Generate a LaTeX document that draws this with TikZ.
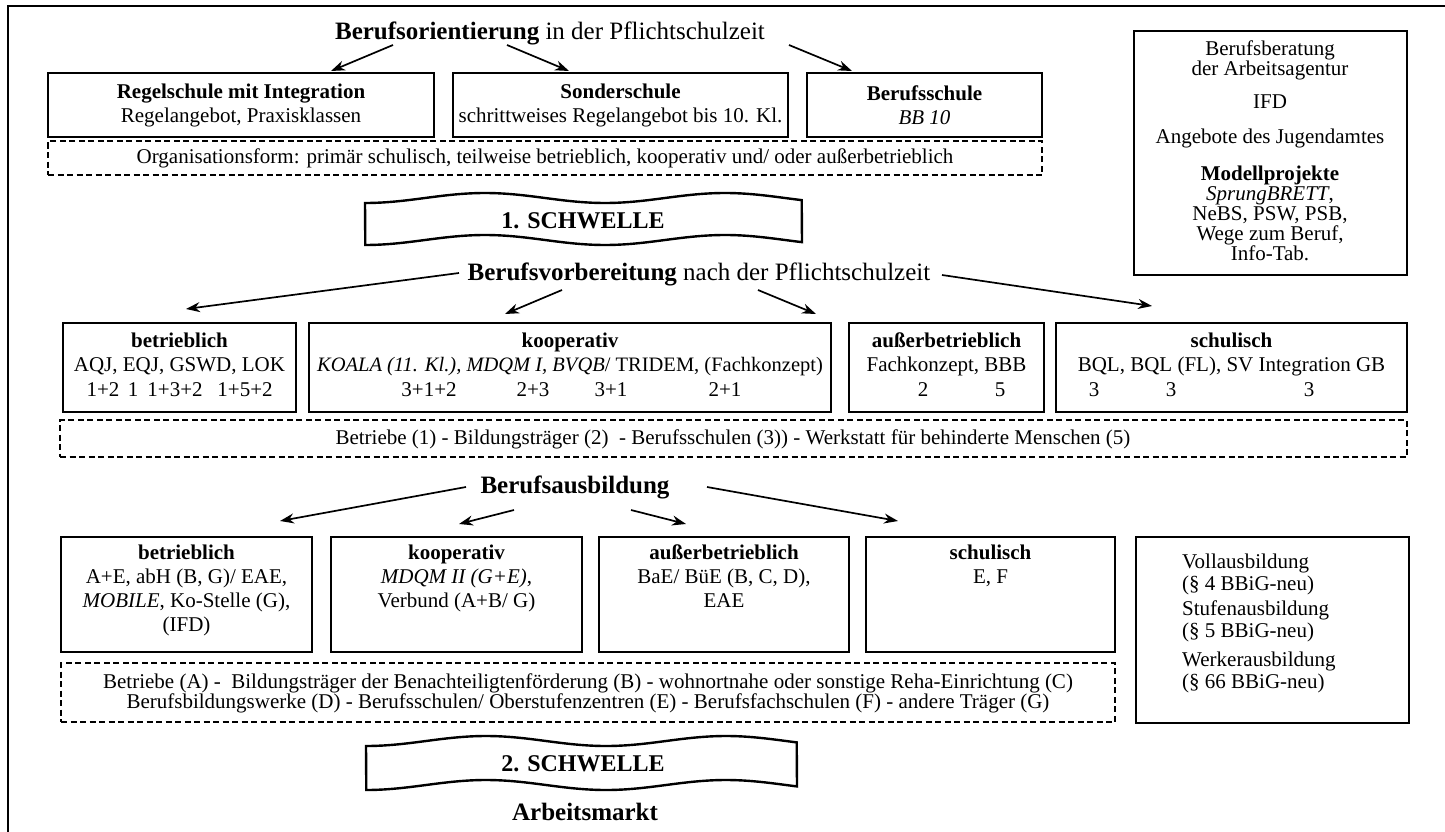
\documentclass[tikz,border=0pt]{standalone}
\usepackage{fontspec}
\setmainfont{Liberation Serif}
\usetikzlibrary{arrows.meta,fit}
\begin{document}
\begin{tikzpicture}[x=1pt,y=-1pt,
  box/.style={draw, line width=1.4pt, inner sep=0pt},
  thickbox/.style={draw, line width=2.4pt, inner sep=0pt},
  dbox/.style={draw, dash pattern=on 6pt off 3.5pt, line width=1.3pt, inner sep=0pt},
  txt/.style={font=\fontsize{21}{24}\selectfont, inner sep=0pt, align=center},
  hd/.style={font=\fontsize{25}{28}\selectfont, inner sep=0pt},
  arr/.style={-{Stealth[length=14pt,width=10pt]}, line width=1.7pt},
  ban/.style={line width=2.4pt}]
\useasboundingbox (0,0) rectangle (1445,832);
% outer frame
\draw[line width=1.9pt] (1445,6) -- (8,6) -- (8,832);

% ---------- Berufsorientierung ----------
\node[hd, anchor=base] (t1) at (550,40) {\textbf{Berufsorientierung} in der Pflichtschulzeit};
\coordinate (a1s) at (393,45); \coordinate (a1e) at (331,71);
\coordinate (a2s) at (507,45); \coordinate (a2e) at (569,71);
\coordinate (a3s) at (789,45); \coordinate (a3e) at (852,71);
\draw[arr] (a1s) -- (a1e);
\draw[arr] (a2s) -- (a2e);
\draw[arr] (a3s) -- (a3e);

\node[box, fit={(48,73) (434,137)}] (b11) {};
\node[box, fit={(453,73) (788,137)}] (b12) {};
\node[box, fit={(807,73) (1042,137)}] (b13) {};
\node[txt] (b11t) at (b11.center) {\textbf{Regelschule mit Integration}\\Regelangebot, Praxisklassen};
\node[txt] (b12t) at (b12.center) {\textbf{Sonderschule}\\schrittweises Regelangebot bis 10. Kl.};
\node[txt] (b13t) at (b13.center) {\textbf{Berufsschule}\\\textit{BB 10}};

\node[dbox, fit={(48,141) (1042,175)}] (d1) {};
\node[txt, anchor=base] (d1t) at (545,164) {Organisationsform: primär schulisch, teilweise betrieblich, kooperativ und/ oder außerbetrieblich};

% right info box
\node[box, fit={(1134,31) (1407,275)}] (rb) {};
\node[txt, font=\fontsize{21}{19}\selectfont] (rb1) at (1270,60) {Berufsberatung\\der Arbeitsagentur};
\node[txt, anchor=base] (rb2) at (1270,109) {IFD};
\node[txt, anchor=base] (rb3) at (1270,143) {Angebote des Jugendamtes};
\node[txt, font=\fontsize{21}{20}\selectfont] (rb4) at (1270,213) {\textbf{Modellprojekte}\\\textit{SprungBRETT},\\NeBS, PSW, PSB,\\Wege zum Beruf,\\Info-Tab.};

% ---------- 1. SCHWELLE ----------
\draw[ban] plot[domain=0:1, samples=80, variable=\t] ({365+437*\t},{198+5*cos(655.5*\t)})
  -- plot[domain=1:0, samples=80, variable=\t] ({365+437*\t},{240+5*cos(655.5*\t)}) -- cycle;
\node[hd, anchor=base, font=\fontsize{24}{28}\selectfont] (s1) at (583,228) {\textbf{1. SCHWELLE}};

% ---------- Berufsvorbereitung ----------
\node[hd, anchor=base] (t2) at (699,280) {\textbf{Berufsvorbereitung} nach der Pflichtschulzeit};
\coordinate (c1s) at (459,273); \coordinate (c1e) at (186,309);
\coordinate (c2s) at (562,290); \coordinate (c2e) at (505,314);
\coordinate (c3s) at (758,290); \coordinate (c3e) at (816,314);
\coordinate (c4s) at (942,275); \coordinate (c4e) at (1152,306);
\draw[arr] (c1s) -- (c1e);
\draw[arr] (c2s) -- (c2e);
\draw[arr] (c3s) -- (c3e);
\draw[arr] (c4s) -- (c4e);

\node[box, fit={(63,323) (296,412)}] (b21) {};
\node[box, fit={(309,323) (831,412)}] (b22) {};
\node[box, fit={(849,323) (1044,412)}] (b23) {};
\node[box, fit={(1056,323) (1407,412)}] (b24) {};

\node[txt, anchor=base] (b21a) at (179.5,347) {\textbf{betrieblich}};
\node[txt, anchor=base] (b21b) at (179.5,371) {AQJ, EQJ, GSWD, LOK};
\node[txt, anchor=base] (b21n1) at (103,396) {1+2};
\node[txt, anchor=base] (b21n2) at (133,396) {1};
\node[txt, anchor=base] (b21n3) at (175,396) {1+3+2};
\node[txt, anchor=base] (b21n4) at (245,396) {1+5+2};

\node[txt, anchor=base] (b22a) at (570,347) {\textbf{kooperativ}};
\node[txt, anchor=base, font=\fontsize{20.5}{24}\selectfont] (b22b) at (570,371) {\textit{KOALA (11. Kl.), MDQM I, BVQB}/ TRIDEM, (Fachkonzept)};
\node[txt, anchor=base] (b22n1) at (429,396) {3+1+2};
\node[txt, anchor=base] (b22n2) at (533,396) {2+3};
\node[txt, anchor=base] (b22n3) at (611,396) {3+1};
\node[txt, anchor=base] (b22n4) at (725,396) {2+1};

\node[txt, anchor=base] (b23a) at (946.5,347) {\textbf{außerbetrieblich}};
\node[txt, anchor=base] (b23b) at (946.5,371) {Fachkonzept, BBB};
\node[txt, anchor=base] (b23n1) at (923,396) {2};
\node[txt, anchor=base] (b23n2) at (1000,396) {5};

\node[txt, anchor=base] (b24a) at (1231.5,347) {\textbf{schulisch}};
\node[txt, anchor=base] (b24b) at (1231.5,371) {BQL, BQL (FL), SV Integration GB};
\node[txt, anchor=base] (b24n1) at (1094,396) {3};
\node[txt, anchor=base] (b24n2) at (1171,396) {3};
\node[txt, anchor=base] (b24n3) at (1309,396) {3};

\node[dbox, fit={(60,420) (1407,457)}] (d2) {};
\node[txt, anchor=base] (d2t) at (733,444) {Betriebe (1) - Bildungsträger (2) \ - Berufsschulen (3)) - Werkstatt für behinderte Menschen (5)};

% ---------- Berufsausbildung ----------
\node[hd, anchor=base] (t3) at (575,493) {\textbf{Berufsausbildung}};
\coordinate (e1s) at (466,487); \coordinate (e1e) at (280,521);
\coordinate (e2s) at (514,510); \coordinate (e2e) at (459,524);
\coordinate (e3s) at (631,510); \coordinate (e3e) at (686,524);
\coordinate (e4s) at (707,487); \coordinate (e4e) at (898,521);
\draw[arr] (e1s) -- (e1e);
\draw[arr] (e2s) -- (e2e);
\draw[arr] (e3s) -- (e3e);
\draw[arr] (e4s) -- (e4e);

\node[box, fit={(61,537) (312,652)}] (b31) {};
\node[box, fit={(331,537) (582,652)}] (b32) {};
\node[box, fit={(599,537) (849,652)}] (b33) {};
\node[box, fit={(866,537) (1115,652)}] (b34) {};
\node[thickbox, fit={(1136,537) (1409,723)}] (b35) {};

\node[txt, anchor=base] (b31a) at (186.5,559) {\textbf{betrieblich}};
\node[txt, anchor=base] (b31b) at (186.5,583) {A+E, abH (B, G)/ EAE,};
\node[txt, anchor=base] (b31c) at (186.5,607) {\textit{MOBILE}, Ko-Stelle (G),};
\node[txt, anchor=base] (b31d) at (186.5,631) {(IFD)};

\node[txt, anchor=base] (b32a) at (456.5,559) {\textbf{kooperativ}};
\node[txt, anchor=base] (b32b) at (456.5,583) {\textit{MDQM II (G+E)},};
\node[txt, anchor=base] (b32c) at (456.5,607) {Verbund (A+B/ G)};

\node[txt, anchor=base] (b33a) at (724,559) {\textbf{außerbetrieblich}};
\node[txt, anchor=base] (b33b) at (724,583) {BaE/ BüE (B, C, D),};
\node[txt, anchor=base] (b33c) at (724,607) {EAE};

\node[txt, anchor=base] (b34a) at (990.5,559) {\textbf{schulisch}};
\node[txt, anchor=base] (b34b) at (990.5,583) {E, F};

\node[txt, align=left, anchor=west, font=\fontsize{21}{22}\selectfont] (b35a) at (1182,574) {Vollausbildung\\(§ 4 BBiG-neu)};
\node[txt, align=left, anchor=west, font=\fontsize{21}{22}\selectfont] (b35b) at (1182,621) {Stufenausbildung\\(§ 5 BBiG-neu)};
\node[txt, align=left, anchor=west, font=\fontsize{21}{22}\selectfont] (b35c) at (1182,672) {Werkerausbildung\\(§ 66 BBiG-neu)};

\node[dbox, fit={(61,663) (1115,722)}] (d3) {};
\node[txt, font=\fontsize{21}{20}\selectfont] (d3t) at (588,693) {Betriebe (A) - \ Bildungsträger der Benachteiligtenförderung (B) - wohnortnahe oder sonstige Reha-Einrichtung (C)\\Berufsbildungswerke (D) - Berufsschulen/ Oberstufenzentren (E) - Berufsfachschulen (F) - andere Träger (G)};

% ---------- 2. SCHWELLE ----------
\draw[ban] plot[domain=0:1, samples=80, variable=\t] ({366+431*\t},{741+5*cos(646.5*\t)})
  -- plot[domain=1:0, samples=80, variable=\t] ({366+431*\t},{785+5*cos(646.5*\t)}) -- cycle;
\node[hd, anchor=base, font=\fontsize{24}{28}\selectfont] (s2) at (583,771) {\textbf{2. SCHWELLE}};
\node[hd, anchor=base] (t4) at (585,820) {\textbf{Arbeitsmarkt}};
\end{tikzpicture}
\end{document}
